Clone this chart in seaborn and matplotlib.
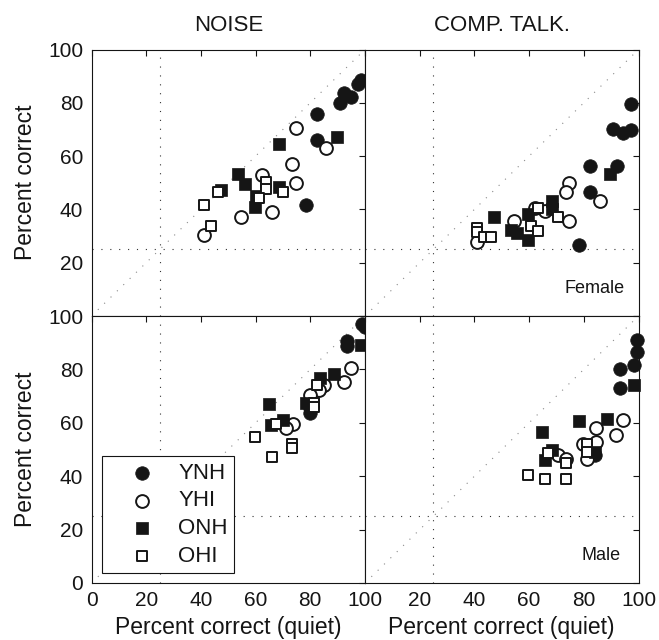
import matplotlib
matplotlib.use("Agg")
import matplotlib.pyplot as plt
import seaborn as sns
import pandas as pd

# ---------------- data (percent correct: quiet vs. masker) ----------------
GROUPS = ["YNH", "YHI", "ONH", "OHI"]
PANEL_TITLES = ["NOISE", "COMP. TALK."]
TICKS = [0, 20, 40, 60, 80, 100]

# Noise, Female
NF_YNH_Q = [98.5, 97.5, 92.3, 95.0, 91.0, 82.5, 82.5, 78.6]
NF_YNH_C = [88.5, 87.0, 83.7, 82.0, 80.0, 75.7, 66.2, 41.7]
NF_YHI_Q = [74.8, 85.9, 73.3, 62.3, 74.8, 66.0, 54.8, 41.1]
NF_YHI_C = [70.4, 62.9, 56.9, 52.9, 50.0, 39.1, 37.0, 30.4]
NF_ONH_Q = [68.7, 89.8, 53.5, 56.0, 47.4, 68.7, 59.8, 60.0]
NF_ONH_C = [64.7, 67.2, 53.2, 49.5, 47.2, 48.5, 41.0, 45.0]
NF_OHI_Q = [63.8, 63.8, 61.1, 69.9, 46.1, 41.2, 43.6]
NF_OHI_C = [50.4, 47.6, 44.4, 46.6, 46.6, 41.5, 33.9]

# Competing talker, Female
TF_YNH_Q = [97.2, 90.7, 94.4, 97.2, 82.2, 92.1, 82.2, 78.4]
TF_YNH_C = [79.4, 70.0, 68.5, 69.7, 56.4, 56.4, 46.6, 26.6]
TF_YHI_Q = [74.6, 73.4, 85.8, 74.6, 65.8, 62.1, 54.5, 40.8]
TF_YHI_C = [50.0, 46.6, 43.1, 35.6, 39.4, 40.6, 35.6, 27.6]
TF_ONH_Q = [89.5, 68.3, 68.3, 47.1, 59.6, 53.2, 55.7, 59.6]
TF_ONH_C = [53.2, 43.1, 40.0, 37.2, 38.1, 32.2, 31.0, 28.7]
TF_OHI_Q = [63.2, 70.5, 60.8, 63.2, 41.0, 41.0, 43.5, 45.9]
TF_OHI_C = [40.6, 37.0, 33.9, 32.0, 33.1, 31.6, 29.5, 29.7]

# Noise, Male
NM_YNH_Q = [99.0, 100.0, 93.5, 93.5, 83.7, 80.0, 80.0]
NM_YNH_C = [97.0, 96.0, 90.6, 88.9, 72.9, 63.5, 65.4]
NM_YHI_Q = [95.0, 92.3, 84.9, 83.1, 80.0, 73.5, 71.2]
NM_YHI_C = [80.4, 75.4, 74.1, 72.2, 70.4, 59.7, 58.2]
NM_ONH_Q = [98.6, 88.6, 83.7, 65.0, 78.6, 70.0, 65.8]
NM_ONH_C = [89.1, 78.1, 76.9, 66.9, 67.6, 61.2, 59.1]
NM_OHI_Q = [82.5, 81.3, 81.3, 67.5, 59.8, 73.3, 73.3, 66.0]
NM_OHI_C = [74.1, 67.6, 66.0, 59.5, 54.7, 51.9, 50.6, 47.2]

# Competing talker, Male
TM_YNH_Q = [99.6, 99.6, 98.4, 93.3, 93.3, 84.0]
TM_YNH_C = [91.0, 86.6, 81.6, 80.1, 72.9, 47.9]
TM_YHI_Q = [94.5, 91.9, 84.6, 84.6, 79.7, 81.0, 70.7, 73.4]
TM_YHI_C = [61.0, 55.6, 58.1, 52.9, 52.2, 46.6, 47.9, 46.4]
TM_ONH_Q = [98.4, 88.3, 78.3, 64.6, 68.3, 65.8, 84.0]
TM_ONH_C = [74.1, 61.6, 60.6, 56.6, 50.0, 46.0, 49.1]
TM_OHI_Q = [81.0, 81.0, 67.0, 73.4, 59.6, 65.8, 73.4]
TM_OHI_C = [52.2, 48.9, 48.7, 45.1, 40.4, 39.1, 38.9]

PANELS = {
    ("Female", "NOISE"): {"YNH": (NF_YNH_Q, NF_YNH_C), "YHI": (NF_YHI_Q, NF_YHI_C),
                          "ONH": (NF_ONH_Q, NF_ONH_C), "OHI": (NF_OHI_Q, NF_OHI_C)},
    ("Female", "COMP. TALK."): {"YNH": (TF_YNH_Q, TF_YNH_C), "YHI": (TF_YHI_Q, TF_YHI_C),
                                "ONH": (TF_ONH_Q, TF_ONH_C), "OHI": (TF_OHI_Q, TF_OHI_C)},
    ("Male", "NOISE"): {"YNH": (NM_YNH_Q, NM_YNH_C), "YHI": (NM_YHI_Q, NM_YHI_C),
                        "ONH": (NM_ONH_Q, NM_ONH_C), "OHI": (NM_OHI_Q, NM_OHI_C)},
    ("Male", "COMP. TALK."): {"YNH": (TM_YNH_Q, TM_YNH_C), "YHI": (TM_YHI_Q, TM_YHI_C),
                              "ONH": (TM_ONH_Q, TM_ONH_C), "OHI": (TM_OHI_Q, TM_OHI_C)},
}

rows = []
for (talker, masker), groups in PANELS.items():
    for g, (qs, cs) in groups.items():
        for q, c in zip(qs, cs):
            rows.append({"talker": talker, "masker": masker, "group": g,
                         "quiet": q, "masked": c})
df = pd.DataFrame(rows)

# ---------------- style ----------------
INK = "#151515"
sns.set_style("white")
plt.rcParams["font.family"] = ["Liberation Sans", "DejaVu Sans"]
plt.rcParams["axes.edgecolor"] = INK
plt.rcParams["axes.linewidth"] = 0.8
plt.rcParams["text.color"] = INK
plt.rcParams["axes.labelcolor"] = INK
plt.rcParams["xtick.color"] = INK
plt.rcParams["ytick.color"] = INK

STYLE = {
    "YNH": dict(marker="o", s=95, color=INK, edgecolor=INK, linewidth=0.5),
    "YHI": dict(marker="o", s=85, color="white", edgecolor=INK, linewidth=1.4),
    "ONH": dict(marker="s", s=80, color=INK, edgecolor=INK, linewidth=0.5),
    "OHI": dict(marker="s", s=62, color="white", edgecolor=INK, linewidth=1.4),
}

fig = plt.figure(figsize=(6.59, 6.40), dpi=100)
W, H = 659.0, 640.0
x0, xm, x1 = 91.5 / W, 365.0 / W, 638.5 / W
yb, ym, yt = 1 - 583.0 / H, 1 - 316.0 / H, 1 - 49.5 / H
pw, ph = xm - x0, ym - yb

axes = {
    ("Female", "NOISE"): fig.add_axes([x0, ym, pw, yt - ym]),
    ("Female", "COMP. TALK."): fig.add_axes([xm, ym, x1 - xm, yt - ym]),
    ("Male", "NOISE"): fig.add_axes([x0, yb, pw, ph]),
    ("Male", "COMP. TALK."): fig.add_axes([xm, yb, x1 - xm, ph]),
}

for (talker, masker), ax in axes.items():
    sub = df[(df.talker == talker) & (df.masker == masker)]
    # reference lines
    ax.plot([0, 100], [0, 100], color="#8a8a8a", lw=0.8, ls=(0, (1, 7)), zorder=1)
    ax.axhline(25, color="#333333", lw=0.8, ls=(0, (1, 7)), zorder=1)
    ax.axvline(25, color="#333333", lw=0.8, ls=(0, (1, 7)), zorder=1)
    for g in GROUPS:
        gd = sub[sub.group == g]
        kw = dict(STYLE[g])
        if talker == "Male" and masker == "NOISE":
            kw["label"] = g
        sns.scatterplot(data=gd, x="quiet", y="masked", ax=ax, legend=False,
                        clip_on=False, zorder=3, **kw)
    ax.set_xlim(0, 100)
    ax.set_ylim(0, 100)
    ax.set_xticks(TICKS)
    ax.set_yticks(TICKS)
    ax.tick_params(direction="in", top=True, right=True, length=4, width=0.8,
                   labelsize=15, pad=6, color=INK, labelcolor=INK)
    ax.set_xlabel("")
    ax.set_ylabel("")
    for sp in ax.spines.values():
        sp.set_visible(True)
        sp.set_color(INK)
        sp.set_linewidth(0.8)

tl = axes[("Female", "NOISE")]
tr = axes[("Female", "COMP. TALK.")]
bl = axes[("Male", "NOISE")]
br = axes[("Male", "COMP. TALK.")]

tl.set_yticklabels([""] + [str(t) for t in TICKS[1:]])
tl.tick_params(labelbottom=False)
tr.tick_params(labelbottom=False, labelleft=False)
br.tick_params(labelleft=False)
br.set_xticklabels([""] + [str(t) for t in TICKS[1:]])

tl.set_title(PANEL_TITLES[0], fontsize=16, pad=13, color=INK)
tr.set_title(PANEL_TITLES[1], fontsize=16, pad=13, color=INK)

for ax in (tl, bl):
    ax.set_ylabel("Percent correct", fontsize=16.5, color=INK)
    ax.yaxis.set_label_coords(-0.2, 0.5)
for ax in (bl, br):
    ax.set_xlabel("Percent correct (quiet)", fontsize=16.5, labelpad=4, color=INK)

tr.text(95, 8.5, "Female", ha="right", va="baseline", fontsize=13, color=INK)
br.text(93.5, 8.5, "Male", ha="right", va="baseline", fontsize=13, color=INK)

leg = bl.legend(loc="lower left", bbox_to_anchor=(0.037, 0.036), borderaxespad=0,
                fontsize=16, frameon=True, fancybox=False, framealpha=1,
                edgecolor=INK, borderpad=0.3, handlelength=3.0,
                handletextpad=0.15, labelspacing=0.3, scatterpoints=1)
leg.get_frame().set_linewidth(0.8)
for t in leg.get_texts():
    t.set_color(INK)

fig.savefig("out.png", dpi=100)
